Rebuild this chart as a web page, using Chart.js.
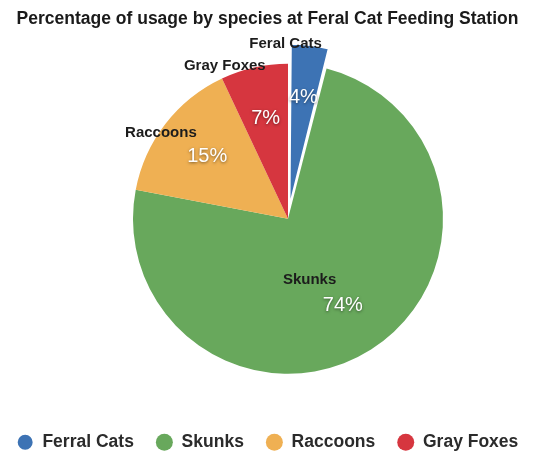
<!DOCTYPE html>
<html>
<head>
<meta charset="utf-8">
<title>Feral Cat Feeding Station</title>
<script src="https://cdn.jsdelivr.net/npm/chart.js@4.4.1/dist/chart.umd.min.js"></script>
<style>
    html, body { margin: 0; padding: 0; background: #fff; }
</style>
</head>
<body>
<canvas id="usage-chart" width="559" height="459"></canvas>
<script>
// data
const legendLabels = ['Ferral Cats', 'Skunks', 'Raccoons', 'Gray Foxes'];
const sliceNames = ['Feral Cats', 'Skunks', 'Raccoons', 'Gray Foxes'];
const usagePct = [4, 74, 15, 7];

const sliceColors = ['#3d73b4', '#68a85c', '#efb053', '#d6363f'];
const FONT = '"Liberation Sans", Arial, Helvetica, sans-serif';

// move the pie inside the chart area (title and legend stay where they are)
const pieNudge = {
    id: 'pieNudge',
    afterLayout(chart, args, opts) {
        const a = chart.chartArea;
        a.left += opts.dx;
        a.right += opts.dx;
        a.top += opts.dy;
        a.bottom += opts.dy;
    }
};

// names + percentages on the slices
const sliceLabels = {
    id: 'sliceLabels',
    afterDatasetsDraw(chart, args, opts) {
        const ctx = chart.ctx;
        const meta = chart.getDatasetMeta(0);
        meta.data.forEach(function (arc, i) {
            const p = arc.getProps(['x', 'y', 'startAngle', 'endAngle', 'outerRadius'], true);
            const mid = (p.startAngle + p.endAngle) / 2;
            // how far chart.js pushes an offset slice outwards (same maths as ArcElement.draw)
            const o = (arc.options.offset || 0) / 4;
            const fix = 1 - Math.sin(Math.min(Math.PI, p.endAngle - p.startAngle));
            const push = o + o * fix;

            // percentage
            const rp = p.outerRadius * opts.pctRadius + push;
            ctx.save();
            ctx.font = opts.pctFont;
            ctx.fillStyle = '#ffffff';
            ctx.textAlign = 'center';
            ctx.textBaseline = 'middle';
            ctx.shadowColor = 'rgba(0,0,0,0.5)';
            ctx.shadowBlur = 3;
            ctx.shadowOffsetY = 1;
            ctx.fillText(usagePct[i] + '%', p.x + Math.cos(mid) * rp, p.y + Math.sin(mid) * rp);
            ctx.restore();

            // name
            const n = opts.names[i];
            const a = mid + n.turn * Math.PI / 180;
            const rn = p.outerRadius * n.r + push;
            ctx.save();
            ctx.font = opts.nameFont;
            ctx.fillStyle = '#1c1c1c';
            ctx.textAlign = 'center';
            ctx.textBaseline = 'middle';
            ctx.fillText(sliceNames[i], p.x + Math.cos(a) * rn, p.y + Math.sin(a) * rn);
            ctx.restore();
        });
    }
};

const ctx = document.getElementById('usage-chart').getContext('2d');
const usageChart = new Chart(ctx, {
    type: 'pie',
    data: {
        labels: legendLabels,
        datasets: [{
            data: usagePct,
            backgroundColor: sliceColors,
            borderColor: '#ffffff',
            borderWidth: [2, 0, 0, 0],
            offset: [46, 0, 0, 0],
            radius: 155
        }]
    },
    options: {
        responsive: false,
        animation: false,
        devicePixelRatio: 1,
        layout: {
            padding: { left: -12, right: 12, top: 0, bottom: -2 }
        },
        plugins: {
            title: {
                display: true,
                text: 'Percentage of usage by species at Feral Cat Feeding Station',
                color: '#1a1a1a',
                font: { family: FONT, size: 17.5, weight: 'bold' },
                padding: { top: 9, bottom: 6 }
            },
            legend: {
                position: 'bottom',
                labels: {
                    usePointStyle: true,
                    pointStyle: 'circle',
                    boxWidth: 17,
                    boxHeight: 12,
                    padding: 22,
                    color: '#2b2b2b',
                    font: { family: FONT, size: 17.5, weight: 'bold' }
                }
            },
            tooltip: { enabled: false },
            pieNudge: { dx: 14.5, dy: -5 },
            sliceLabels: {
                pctRadius: 0.66,
                pctFont: '20px ' + FONT,
                nameFont: 'bold 15px ' + FONT,
                names: [
                    { r: 1.0, turn: -8 },
                    { r: 0.42, turn: 13 },
                    { r: 0.99, turn: -3.7 },
                    { r: 1.07, turn: -9.8 }
                ]
            }
        }
    },
    plugins: [pieNudge, sliceLabels]
});
</script>
</body>
</html>
